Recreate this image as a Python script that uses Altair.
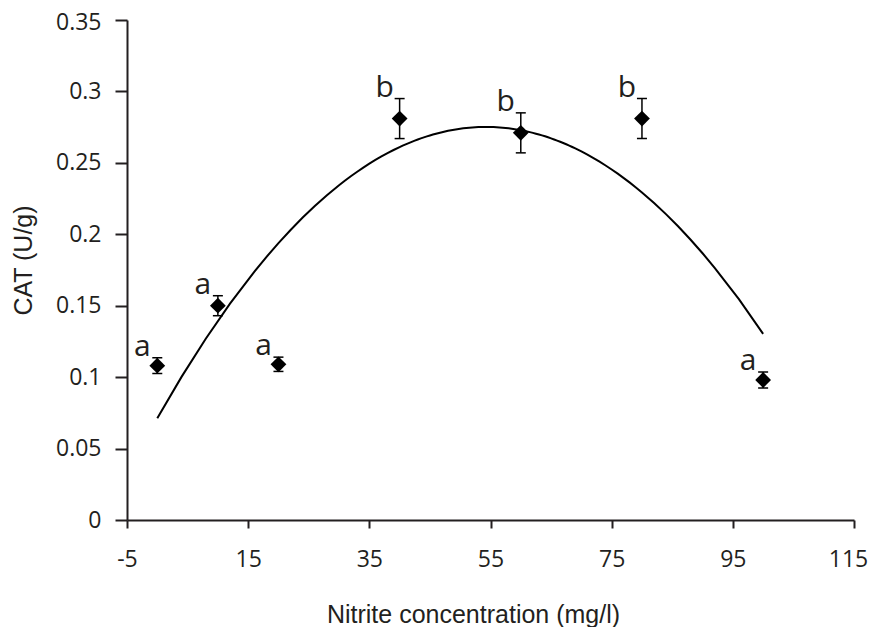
import altair as alt
import pandas as pd

# ---- data ----
nitrite = [0, 10, 20, 40, 60, 80, 100]
cat_mean = [0.108, 0.150, 0.109, 0.281, 0.271, 0.281, 0.098]
cat_err = [0.0055, 0.007, 0.005, 0.014, 0.014, 0.014, 0.0056]
letters = ["a", "a", "a", "b", "b", "b", "a"]
x_ticks = [-5, 15, 35, 55, 75, 95, 115]
y_ticks = [0, 0.05, 0.1, 0.15, 0.2, 0.25, 0.3, 0.35]

df = pd.DataFrame({"x": nitrite, "y": cat_mean, "err": cat_err, "letter": letters})

INK = "#231f20"
xs = alt.Scale(domain=[-5, 115], nice=False, zero=False)
ys = alt.Scale(domain=[0, 0.35], nice=False)

xax = alt.Axis(values=x_ticks, title="Nitrite concentration (mg/l)", tickSize=8,
               labelExpr="'' + datum.value",
               labelOffset={"condition": {"test": "datum.value == 115", "value": -6}, "value": 0},
               labelPadding=20, titleX=346, titleY=102, titleBaseline="alphabetic",
               titleAlign="center", labelFlush=False, labelOverlap=False)
yax = alt.Axis(values=y_ticks, labelExpr="'' + datum.value", title="CAT (U/g)", tickSize=12,
               labelOffset={"condition": {"test": "datum.value == 0.35", "value": 2}, "value": 0},
               labelPadding=14, titleX=-96, titleY=240, titleAngle=270,
               titleBaseline="alphabetic", titleAlign="center", labelOverlap=False)

X = alt.X("x:Q", scale=xs, axis=xax)

base = alt.Chart(df).transform_calculate(
    lo="datum.y - datum.err", hi="datum.y + datum.err"
)

curve = alt.Chart(df).transform_regression(
    "x", "y", method="poly", order=2, extent=[0, 100]
).mark_line(color="black", strokeWidth=2).encode(
    x=X, y=alt.Y("y:Q", scale=ys, axis=yax)
)

rules = base.mark_rule(color="black", strokeWidth=1.5).encode(
    x=X, y=alt.Y("lo:Q", scale=ys, axis=yax), y2="hi:Q"
)
cap_lo = base.mark_tick(orient="horizontal", size=10, thickness=1.5, color="black", opacity=1).encode(
    x=X, y=alt.Y("lo:Q", scale=ys, axis=yax)
)
cap_hi = base.mark_tick(orient="horizontal", size=10, thickness=1.5, color="black", opacity=1).encode(
    x=X, y=alt.Y("hi:Q", scale=ys, axis=yax)
)
points = base.mark_point(shape="diamond", filled=True, size=250, color="black", opacity=1).encode(
    x=X, y=alt.Y("y:Q", scale=ys, axis=yax)
)
labels = base.mark_text(font="Open Sans", fontSize=30, dx=-15, dy=-2, baseline="alphabetic",
                        align="center", color=INK).encode(
    x=X, y=alt.Y("hi:Q", scale=ys, axis=yax), text="letter:N"
)

chart = alt.layer(curve, rules, cap_lo, cap_hi, points, labels).properties(
    width=727, height=500,
    autosize=alt.AutoSizeParams(type="none"),
    padding={"left": 119, "top": 12, "right": 16, "bottom": 107},
).configure_view(stroke=None).configure_axis(
    grid=False, domainColor=INK, domainWidth=2, tickColor=INK, tickWidth=2,
    labelFont="Open Sans", labelFontSize=23, labelColor=INK,
    titleFont="Liberation Sans", titleFontSize=25, titleFontWeight="normal", titleColor=INK,
)

chart.save("out.html", embed_options={"renderer": "svg", "actions": False})
